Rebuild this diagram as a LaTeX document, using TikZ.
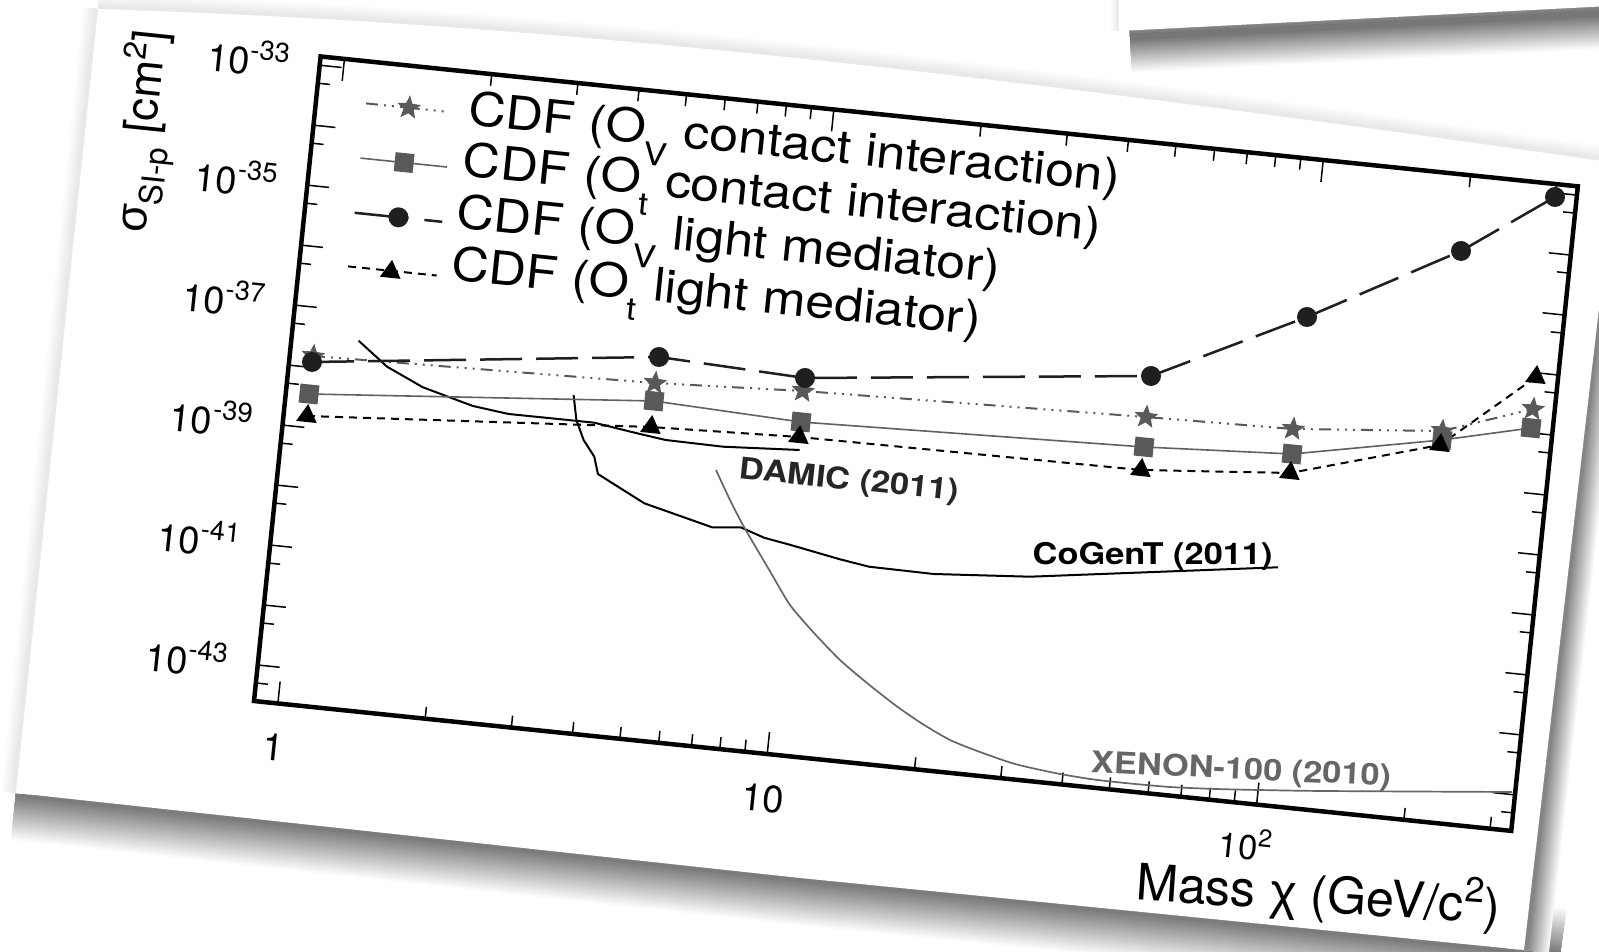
\documentclass[tikz,border=0pt]{standalone}
\usepackage{graphicx}
\usepackage{fontspec}
\setmainfont{TeX Gyre Heros}
\newfontfamily\legfont[FakeStretch=1.12]{TeX Gyre Heros}
\newfontfamily\labfont[FakeStretch=1.15]{TeX Gyre Heros}
\newfontfamily\grkfont{Liberation Sans}
\usetikzlibrary{shapes.geometric}

\newcommand{\tenpow}[1]{10\raisebox{0.42em}{\scalebox{0.72}{#1}}}
\newcommand{\opsub}[1]{O\raisebox{-0.45em}{\scalebox{0.68}{#1}}}

\begin{document}
\begin{tikzpicture}[x=0.01cm, y=-0.01cm,
  axframe/.style={line width=0.45mm},
  axtick/.style={line width=0.15mm},
  ticklab/.style={inner sep=0, transform shape, font=\fontsize{10.8}{12}\selectfont},
  legtext/.style={inner sep=0, anchor=base west, transform shape, font=\legfont\fontsize{13.2}{15}\selectfont},
  explab/.style={inner sep=0, anchor=base west, font=\labfont\bfseries\fontsize{8.5}{10}\selectfont},
  circm/.style={circle, fill=black!88, inner sep=0, minimum size=2mm},
  sqm/.style={rectangle, fill=black!65, inner sep=0, minimum size=1.9mm, rotate=-5.9},
  starm/.style={star, star points=5, star point ratio=2.3, fill=black!65, inner sep=0, minimum size=2.5mm, rotate=-5.9},
  trim/.style={regular polygon, regular polygon sides=3, fill=black, inner sep=0, minimum size=2.4mm, rotate=-5.9},
  cline/.style={black!88, line width=0.25mm, dash pattern=on 4.2mm off 1.4mm},
  sline/.style={black!65, line width=0.2mm, dash pattern=on 1.2mm off 0.6mm on 0.2mm off 0.6mm on 0.2mm off 0.6mm on 0.2mm off 0.6mm},
  qline/.style={black!62, line width=0.16mm},
  tline/.style={black, line width=0.2mm, dash pattern=on 0.8mm off 0.6mm},
  limit/.style={black, line width=0.2mm, line join=round},
]
\useasboundingbox[fill=white] (0,0) rectangle (1599,952);

% shadows of the sheets
\foreach \i in {0,...,19} {
  \pgfmathsetmacro\w{9.4-0.45*\i}
  \pgfmathsetmacro\c{2+2.6*\i}
  \draw[black!\c, line width=\w mm, line join=round]
    (16,793) -- (800,878) -- (1524,950) -- (1560,955);
}
\foreach \i in {0,...,14} {
  \pgfmathsetmacro\w{5-0.3*\i}
  \pgfmathsetmacro\c{3+3.2*\i}
  \draw[black!\c, line width=\w mm] (1616,150) -- (1524,950);
}
\foreach \i in {0,...,5} {
  \pgfmathsetmacro\w{3-0.45*\i}
  \pgfmathsetmacro\c{1+1.6*\i}
  \draw[black!\c, line width=\w mm] (98,9) -- (16,793);
  \draw[black!\c, line width=\w mm] (98,9) .. controls (500,22) and (900,60) .. (1616,163);
}
\fill[white] (98,9) .. controls (500,22) and (900,60) .. (1616,163)
  -- (1524,950) -- (800,878) -- (16,793) -- cycle;
\foreach \i in {0,...,14} {
  \pgfmathsetmacro\w{7-0.45*\i}
  \pgfmathsetmacro\c{3+3.6*\i}
  \draw[black!\c, line width=\w mm] (1130,37) -- (1610,13);
}
\foreach \i in {0,...,3} {
  \pgfmathsetmacro\w{1.6-0.35*\i}
  \pgfmathsetmacro\c{2+2*\i}
  \draw[black!\c, line width=\w mm] (1119,-5) -- (1119,31);
}
\fill[white] (1119,-5) -- (1119,31) -- (1610,6) -- (1610,-5) -- cycle;

% axes, ticks and legend, in the frame of the tilted sheet
\begin{scope}[shift={(254,701)}, rotate=-5.9, x=0.01cm, y=0.01cm]
  \foreach \d in {0,1,2}
    \foreach \k in {1,...,9} {
      \pgfmathsetmacro\u{24+492*(\d+log10(\k))}
      \pgfmathsetmacro\l{\k==1 ? 22 : 12}
      \ifdim\u pt<1264pt
        \draw[axtick] (\u,0) -- ++(0,\l);
        \draw[axtick] (\u,648) -- ++(0,-\l);
      \fi
    }
  \foreach \j in {0,...,10} {
    \pgfmathsetmacro\v{36.2+60.3*\j}
    \draw[axtick] (0,\v) -- ++(22,0);
    \draw[axtick] (0,\v-18.1) -- ++(12,0);
    \draw[axtick] (1264,\v) -- ++(-22,0);
    \draw[axtick] (1264,\v-18.1) -- ++(-12,0);
  }
  \draw[axframe] (0,0) rectangle (1264,648);

  \foreach \j/\e in {0/43, 2/41, 4/39, 6/37, 8/35, 10/33}
    \node[ticklab, anchor=base east] (ylab\e) at (-30,36.2+60.3*\j-17) {\tenpow{-\e}};
  \node[ticklab, anchor=base] (xlab1) at (24,-57.5) {1};
  \node[ticklab, anchor=base] (xlab10) at (516,-57.5) {10};
  \node[ticklab, anchor=base, font=\fontsize{9.8}{11}\selectfont] (xlab100) at (1001,-56) {\tenpow{2}};

  \node[inner sep=0, anchor=base east, rotate=2, transform shape, font=\fontsize{14.3}{16}\selectfont]
    (xtitle) at (1262,-94) {Mass {\grkfont χ} (GeV/c\raisebox{0.4em}{\scalebox{0.7}{2}})};
  \node[inner sep=0, anchor=base east, rotate=90, transform shape, font=\fontsize{12.9}{15}\selectfont]
    (ytitle) at (-156,657) {{\grkfont σ}\raisebox{-0.3em}{\scalebox{0.7}{SI-p}} [cm\raisebox{0.4em}{\scalebox{0.7}{2}}]};

  % legend
  \coordinate (l1a) at (50,606);  \coordinate (l1b) at (130,606);
  \coordinate (l2a) at (50,551);  \coordinate (l2b) at (137,551);
  \coordinate (l3a) at (50,496);  \coordinate (l3b) at (138,496);
  \coordinate (l4a) at (49,442);  \coordinate (l4b) at (138,442);
  \draw[sline] (l1a) -- (l1b);
  \draw[qline] (l2a) -- (l2b);
  \draw[cline, dash pattern=on 5.4mm off 1.6mm on 2mm off 2mm] (l3a) -- (l3b);
  \draw[tline] (l4a) -- (l4b);
  \node[starm] (lstar) at (93,606) {};
  \node[sqm] (lsq) at (94,551) {};
  \node[circm] (lcirc) at (94,496) {};
  \node[trim] (ltri) at (92,441) {};
  \node[legtext] (leg1) at (152,595) {CDF (\opsub{V} contact interaction)};
  \node[legtext] (leg2) at (152,544) {CDF (\opsub{t} contact interaction)};
  \node[legtext] (leg3) at (151,492) {CDF (\opsub{V} light mediator)};
  \node[legtext] (leg4) at (151,439) {CDF (\opsub{t} light mediator)};
\end{scope}

% experimental limits
\draw[limit] (358.6,340.7) -- (387.1,366.7) -- (422.9,387.3) -- (472.9,406) -- (508.6,414)
  -- (551.4,418.3) -- (594.3,422.7) -- (637.1,433.3) -- (665.7,440) -- (722.9,446.7) -- (799.6,450);
\draw[limit] (573.6,395) -- (576.4,420) -- (583.6,440) -- (594.3,456.7) -- (597.9,474)
  -- (644.3,503.3) -- (712.1,527.3) -- (740.7,527.3) -- (764,537.7) -- (790.7,545)
  -- (840,559.3) -- (869,566.7) -- (933.6,574) -- (1030,576.7) -- (1278,567.3);
\draw[black!60, line width=0.17mm] plot[smooth, tension=0.4] coordinates {
  (716,470) (730,500) (744,527) (771,573) (790,605) (814,633) (840,660) (867,683)
  (895,705) (921,723) (950,740) (980,752) (1015,764) (1055,773) (1090,779) (1125,783)
  (1170,787) (1216,789) (1259,790) (1323,791) (1512,792)};
\node[explab, text=black!85, rotate=-6] (damic) at (738,478) {DAMIC (2011)};
\node[explab] (cogent) at (1032,565) {CoGenT (2011)};
\node[explab, text=black!60, rotate=-2.7] (xenon) at (1090,772) {XENON-100 (2010)};

% CDF points
\coordinate (c1) at (312,362);  \coordinate (c2) at (659,357);  \coordinate (c3) at (805,378);
\coordinate (c4) at (1151,376); \coordinate (c5) at (1307,317); \coordinate (c6) at (1461,251);
\coordinate (c7) at (1555,197);
\coordinate (s1) at (313,356);  \coordinate (s2) at (655,383);  \coordinate (s3) at (803,391);
\coordinate (s4) at (1146,417); \coordinate (s5) at (1293,429); \coordinate (s6) at (1442,431);
\coordinate (s7) at (1533,409);
\coordinate (q1) at (309,394);  \coordinate (q2) at (654,401);  \coordinate (q3) at (801,422);
\coordinate (q4) at (1144,447); \coordinate (q5) at (1292,454); \coordinate (q6) at (1442,440);
\coordinate (q7) at (1531,428);
\coordinate (t1) at (307,416);  \coordinate (t2) at (651,427);  \coordinate (t3) at (799,437);
\coordinate (t4) at (1141,470); \coordinate (t5) at (1290,473); \coordinate (t6) at (1440,445);
\coordinate (t7) at (1536,377);

\draw[qline] (q1) -- (q2) -- (q3) -- (q4) -- (q5) -- (q6) -- (q7);
\draw[sline] (s1) -- (s2) -- (s3) -- (s4) -- (s5) -- (s6) -- (s7);
\draw[tline] (t1) -- (t2) -- (t3) -- (t4) -- (t5) -- (t6) -- (t7);
\draw[cline] (c1) -- (c2) -- (c3) -- (c4) -- (c5) -- (c6) -- (c7);

\foreach \i in {1,...,7} \node[sqm] (qm\i) at (q\i) {};
\foreach \i in {1,...,7} \node[starm] (sm\i) at (s\i) {};
\foreach \i in {1,...,7} \node[trim] (tm\i) at (t\i) {};
\foreach \i in {1,...,7} \node[circm] (cm\i) at (c\i) {};
\end{tikzpicture}
\end{document}
